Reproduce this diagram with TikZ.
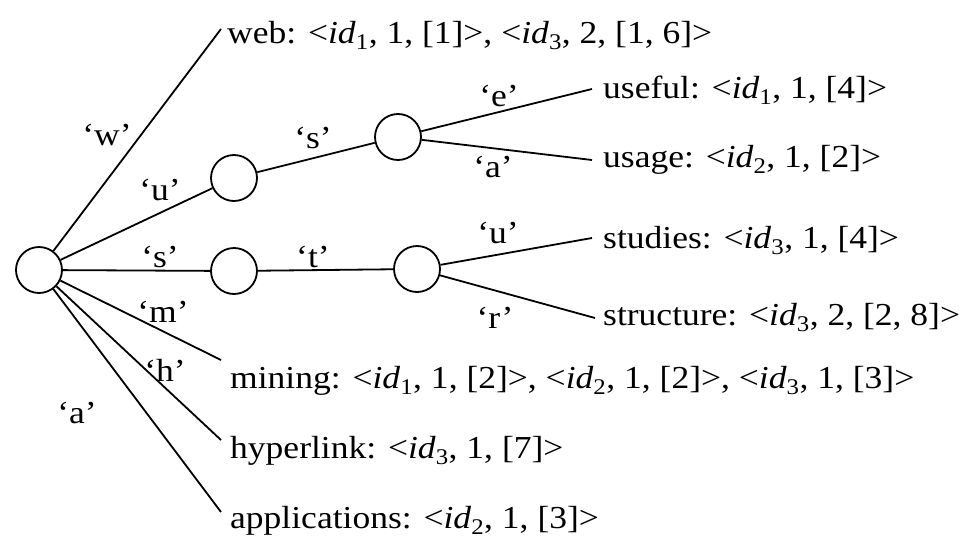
\documentclass[tikz,border=0pt]{standalone}
\usepackage{fontspec}
\setmainfont{Liberation Serif}[FakeStretch=1.11]
\newcommand{\idx}[1]{\textit{id}\textsubscript{#1}}
\begin{document}
\begin{tikzpicture}[x=1pt,y=-1pt,
  trienode/.style={circle,draw,line width=1.8pt,minimum size=46pt,inner sep=0pt},
  edge/.style={line width=1.8pt},
  leaf/.style={anchor=base west,inner sep=0pt,font=\fontsize{32}{34}\selectfont},
  lbl/.style={inner sep=0pt,font=\fontsize{32}{34}\selectfont}]
\useasboundingbox (0,0) rectangle (966,538);
\node[trienode] (root) at (39,270) {};
\node[trienode] (nu) at (234,178) {};
\node[trienode] (nus) at (398,137) {};
\node[trienode] (ns) at (234,271) {};
\node[trienode] (nst) at (417,269) {};
% leaves
\node[leaf] (web) at (227,43) {web: <\idx{1}, 1, [1]>, <\idx{3}, 2, [1, 6]>};
\node[leaf] (useful) at (603,98) {useful: <\idx{1}, 1, [4]>};
\node[leaf] (usage) at (603,167) {usage: <\idx{2}, 1, [2]>};
\node[leaf] (studies) at (603,248) {studies: <\idx{3}, 1, [4]>};
\node[leaf] (structure) at (603,325) {structure: <\idx{3}, 2, [2, 8]>};
\node[leaf] (mining) at (230,388) {mining: <\idx{1}, 1, [2]>, <\idx{2}, 1, [2]>, <\idx{3}, 1, [3]>};
\node[leaf] (hyper) at (230,458) {hyperlink: <\idx{3}, 1, [7]>};
\node[leaf] (appl) at (230,528) {applications: <\idx{2}, 1, [3]>};
% line ends
\coordinate (eweb) at (221,29);
\coordinate (euseful) at (592,89);
\coordinate (eusage) at (592,160);
\coordinate (estudies) at (592,238);
\coordinate (estructure) at (595,318);
\coordinate (emining) at (221,360);
\coordinate (ehyper) at (221,440);
\coordinate (eappl) at (221,512);
% edges
\draw[edge] (root) -- (eweb);
\draw[edge] (root) -- (nu);
\draw[edge] (nu) -- (nus);
\draw[edge] (nus) -- (euseful);
\draw[edge] (nus) -- (eusage);
\draw[edge] (root) -- (ns);
\draw[edge] (ns) -- (nst);
\draw[edge] (nst) -- (estudies);
\draw[edge] (nst) -- (estructure);
\draw[edge] (root) -- (emining);
\draw[edge] (root) -- (ehyper);
\draw[edge] (root) -- (eappl);
% labels
\node[lbl] (lw) at (107,135) {‘w’};
\node[lbl] (lu) at (160,190) {‘u’};
\node[lbl] (ls1) at (313,138) {‘s’};
\node[lbl] (ls2) at (160,257) {‘s’};
\node[lbl] (lt) at (313,257) {‘t’};
\node[lbl] (le) at (499,96) {‘e’};
\node[lbl] (la1) at (493,167) {‘a’};
\node[lbl] (lu2) at (498,233) {‘u’};
\node[lbl] (lr) at (495,318) {‘r’};
\node[lbl] (lm) at (163,312) {‘m’};
\node[lbl] (lh) at (165,370) {‘h’};
\node[lbl] (la2) at (77,413) {‘a’};
\end{tikzpicture}
\end{document}
